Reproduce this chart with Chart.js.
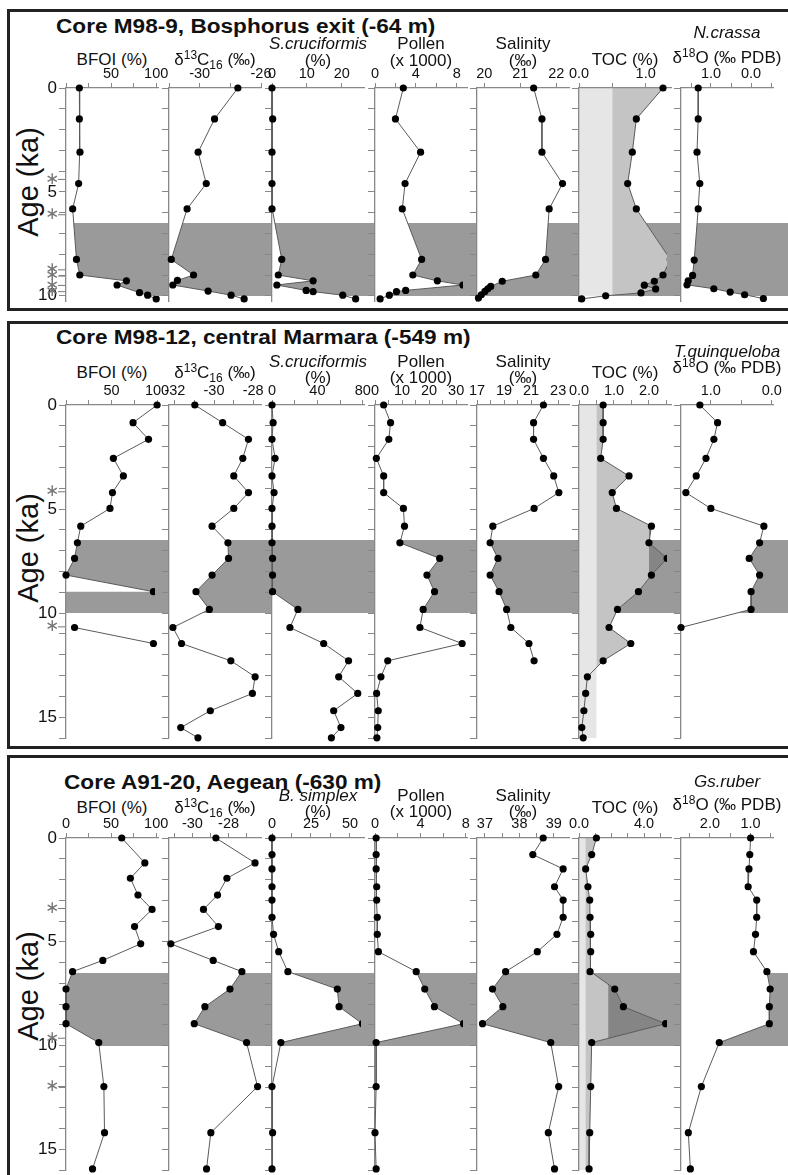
<!DOCTYPE html>
<html>
<head>
<meta charset="utf-8">
<script src="https://cdn.jsdelivr.net/npm/chart.js@4.4.0/dist/chart.umd.min.js"></script>
<style>
body { margin: 0; background: #fff; }
#page { position: relative; width: 788px; height: 1175px; overflow: hidden; font-family: "Liberation Sans", Arial, sans-serif; color: #111; }
.box { position: absolute; left: 7px; width: 800px; border: 3px solid #222; box-sizing: border-box; }
.t { position: absolute; white-space: nowrap; text-align: center; font-size: 17px; line-height: 17px; }
.t sup { font-size: 12px; line-height: 0; vertical-align: 6px; }
.t sub { font-size: 12px; line-height: 0; vertical-align: -4px; }
.title { position: absolute; white-space: nowrap; font-weight: bold; font-size: 20px; line-height: 20px; transform: scaleX(1.13); transform-origin: 0 50%; }
.age { position: absolute; font-size: 29px; line-height: 29px; white-space: nowrap; transform: translate(-50%, -50%) rotate(-90deg); }
canvas { position: absolute; }
</style>
</head>
<body>
<div id="page"></div>
<script>
// ---------- Core M98-9, Bosphorus exit ----------
const m9BfoiAge = [0, 1.49, 3.09, 4.6, 5.82, 8.25, 9.0, 9.28, 9.48, 9.85, 9.97, 10.15];
const m9Bfoi = [14.8, 14.8, 15.5, 14, 7.4, 11.6, 15.3, 67, 56.6, 81.5, 90.5, 100];
const m9D13cAge = [0, 1.49, 3.09, 4.6, 5.82, 8.25, 9.0, 9.26, 9.48, 9.77, 9.97, 10.15];
const m9D13c = [-27.51, -29.03, -30.1, -29.57, -30.82, -31.85, -30.4, -31.45, -31.75, -29.45, -27.95, -27.1];
const m9ScrAge = [0, 1.49, 3.09, 4.6, 5.82, 8.25, 9.0, 9.28, 9.48, 9.74, 9.8, 9.97, 10.15];
const m9Scr = [0, 0.2, 0, 0, 0, 2.8, 1.8, 11.8, 1.4, 9.8, 11.8, 20.3, 24];
const m9Pollen = [2.77, 2.0, 4.46, 2.94, 2.67, 4.56, 3.7, 6.1, 8.6, 3.0, 2.1, 1.4, 0.5];
const m9SalAge = [0, 1.49, 3.09, 4.6, 5.82, 8.25, 9.0, 9.3, 9.55, 9.66, 9.79, 9.95, 10.11];
const m9Sal = [21.37, 21.6, 21.6, 22.17, 21.8, 21.7, 21.43, 20.5, 20.18, 20.1, 20.02, 19.92, 19.84];
const m9TocAge = [0, 1.49, 3.09, 4.6, 5.82, 8.25, 9.0, 9.3, 9.49, 9.67, 9.86, 10.0, 10.15];
const m9Toc = [1.26, 0.86, 0.8, 0.73, 0.86, 1.37, 1.26, 1.13, 0.98, 1.15, 0.93, 0.4, 0.04];
const m9O18Age = [0, 1.49, 3.09, 4.6, 5.82, 8.28, 9.02, 9.28, 9.47, 9.66, 9.82, 9.95, 10.13];
const m9O18 = [1.32, 1.32, 1.35, 1.28, 1.32, 1.42, 1.46, 1.57, 1.6, 0.93, 0.52, 0.16, -0.31];
const m9Dates = [4.4, 6.1, 8.75, 9.05, 9.5, 9.8];
const m9Band = [6.5, 10];

// ---------- Core M98-12, central Marmara ----------
const m12Age = [0, 0.85, 1.65, 2.56, 3.41, 4.21, 4.97, 5.82, 6.62, 7.37, 8.17, 8.97, 9.82, 10.69, 11.46, 12.29, 13.06, 13.86, 14.69, 15.5, 15.99];
const m12Bfoi = [100, 73.6, 90.6, 52, 63, 51, 48.3, 16.2, 12.5, 9.4, 0, 96, null, 9.4, 96];
const m12D13c = [-30.98, -29.56, -28.24, -28.53, -28.99, -28.24, -28.99, -30.1, -29.29, -29.26, -30.1, -30.92, -30.24, -32.1, -31.66, -29.14, -27.9, -28.04, -30.19, -31.7, -30.82];
const m12Scr = [0, 1, 0, 2.7, 0, 1.8, 0, 0, 0, 0.5, 0.5, 0.5, 22.8, 15.8, 45.5, 67.4, 58.7, 75.5, 54.3, 60.7, 52.3];
const m12Pollen = [3.2, 5.75, 5.1, 0.5, 3.2, 3.2, 10.5, 10.9, 9.2, 23.9, 19.2, 22, 17.8, 16.6, 32.2, 4.7, 2.2, 0.6, 1.2, 1.0, 0.7];
const m12Sal = [21.91, 21.18, 21.18, 21.91, 22.67, 23.05, 21.22, 18.17, 17.97, 18.55, 17.97, 18.63, 19.19, 19.5, 20.84, 21.22];
const m12Toc = [0.69, 0.69, 0.69, 0.62, 1.43, 0.95, 1.07, 2.07, 2.0, 2.52, 2.07, 1.7, 1.1, 0.86, 1.48, 0.69, 0.24, 0.19, 0.14, 0.08, 0.12];
const m12O18 = [1.18, 0.89, 0.95, 1.08, 1.24, 1.41, 1.0, 0.13, 0.2, 0.37, 0.2, 0.34, 0.34, 1.49];
const m12Dates = [4.17, 10.66];
const m12Band = [6.5, 10];

// ---------- Core A91-20, Aegean ----------
const a91AgeA = [0, 1.2, 1.94, 2.75, 3.44, 4.27, 5.1, 5.9, 6.44, 7.28, 8.13, 8.95, 9.86, 11.98, 14.2, 15.95];
const a91AgeB = [0, 0.8, 1.49, 2.35, 2.99, 3.82, 4.64, 5.48, 6.44, 7.28, 8.13, 8.95, 9.86, 11.98, 14.2, 15.95];
const a91Bfoi = [61.8, 87.4, 71.4, 79.8, 95.4, 76, 82.8, 40.8, 7.3, 0, 0, 0, 36.3, 42, 42.7, 29.4];
const a91D13c = [-28.7, -26.53, -28.09, -28.61, -29.39, -28.56, -31.2, -28.85, -27.26, -27.92, -29.31, -29.9, -27.0, -26.39, -28.98, -29.22];
const a91Bsim = [0, 0, 0, 0, 0, 0, 1, 4.3, 10.2, 41.9, 43, 58, 5.7, 0, 0.4, 0];
const a91Pollen = [0.1, 0.1, 0.1, 0.15, 0.15, 0.2, 0.2, 0.3, 3.63, 4.38, 5.23, 7.8, 0.1, 0.1, 0, 0.1];
const a91Sal = [38.69, 38.39, 39.27, 39.02, 39.27, 39.27, 39.09, 38.52, 37.6, 37.22, 37.52, 36.93, 38.91, 39.14, 38.84, 39.02];
const a91Toc = [1.07, 0.78, 0.41, 0.55, 0.66, 0.68, 0.72, 0.72, 0.68, 2.2, 2.73, 5.33, 0.78, 0.72, 0.66, 0.62];
const a91O18 = [1.0, 1.02, 1.04, 1.06, 0.85, 0.85, 0.88, 0.93, 0.6, 0.52, 0.54, 0.54, 1.77, 2.21, 2.53, 2.48];
const a91Dates = [3.4, 9.65, 11.98];
const a91Band = [6.5, 10];

// ---------- tick values / labelled ticks ----------
const ageTicks10 = [0, 1, 2, 3, 4, 5, 6, 7, 8, 9, 10];
const ageTicks16 = [0, 1, 2, 3, 4, 5, 6, 7, 8, 9, 10, 11, 12, 13, 14, 15, 16];
const ageLabels = [0, 5, 10, 15];
const tkBfoi = [0, 25, 50, 75, 100];
const tkD13c9 = [-32, -30, -28, -26], lbD13c9 = [-30, -26];
const tkScr9 = [0, 10, 20], lbScr9 = [0, 10, 20];
const tkPol8 = [0, 2, 4, 6, 8], lbPol8 = [0, 4, 8];
const tkSal9 = [20, 21, 22];
const tkToc9 = [0, 0.5, 1.0], lbToc9 = [0, 1];
const tkO189 = [1.5, 1.0, 0.5, 0, -0.5], lbO18 = [1, 0];
const tkD13c12 = [-32, -31, -30, -29, -28], lbD13c12 = [-32, -30, -28];
const tkScr12 = [0, 20, 40, 60, 80], lbScr12 = [0, 40, 80];
const tkPol12 = [0, 5, 10, 15, 20, 25, 30], lbPol12 = [0, 10, 20, 30];
const tkSal12 = [17, 18, 19, 20, 21, 22, 23], lbSal12 = [17, 19, 21, 23];
const tkToc12 = [0, 0.5, 1, 1.5, 2, 2.5], lbToc12 = [0, 1, 2];
const tkO1812 = [1.0, 0.5, 0];
const tkD13c20 = [-31, -30, -29, -28, -27], lbD13c20 = [-30, -28];
const tkBsim = [0, 12.5, 25, 37.5, 50], lbBsim = [0, 25, 50];
const tkSal20 = [37, 37.5, 38, 38.5, 39], lbSal20 = [37, 38, 39];
const tkToc20 = [0, 1, 2, 3, 4, 5], lbToc20 = [0, 4];
const tkO1820 = [2.5, 2.0, 1.5, 1.0, 0.5], lbO1820 = [2, 1];

Chart.defaults.font.family = '"Liberation Sans", Arial, sans-serif';
Chart.defaults.color = '#111';

const BAND = '#9a9a9a', LIGHT = '#e6e6e6', MID = '#c4c4c4', DARK = '#858585', AXIS = '#888';
const COLX = [66, 169, 272, 375, 477, 579, 681];
const COLW = 92, PAD_T = 24, PAD_B = 6;

const d13cHead = '&delta;<sup>13</sup>C<sub>16</sub> (&permil;)';
const o18Line = '&delta;<sup>18</sup>O (&permil; PDB)';

const panels = [
  {
    title: 'Core M98-9, Bosphorus exit (-64 m)', box: [9, 302], titleX: 56, titleY: 26,
    y0: 88, kpx: 20.8, ageMax: 10.25, ageTicks: ageTicks10, dates: m9Dates, band: m9Band,
    toc: [0.5, 2.0], ageY: 182, hy: [60, 44, 61, 33, 58],
    cols: [
      { head: 'BFOI (%)', ages: m9BfoiAge, vals: m9Bfoi, min: 0, max: 102, ticks: tkBfoi, labels: [50, 100] },
      { head: d13cHead, ages: m9D13cAge, vals: m9D13c, min: -32, max: -26, ticks: tkD13c9, labels: lbD13c9 },
      { head: ['<i>S.cruciformis</i>', '(%)'], ages: m9ScrAge, vals: m9Scr, min: 0, max: 26.4, ticks: tkScr9, labels: lbScr9 },
      { head: ['Pollen', '(x 1000)'], ages: m9ScrAge, vals: m9Pollen, min: 0, max: 9, ticks: tkPol8, labels: lbPol8 },
      { head: ['Salinity', '(&permil;)'], ages: m9SalAge, vals: m9Sal, min: 19.8, max: 22.35, ticks: tkSal9, labels: tkSal9 },
      { head: 'TOC (%)', ages: m9TocAge, vals: m9Toc, min: 0, max: 1.38, ticks: tkToc9, labels: lbToc9, dec: 1, toc: true },
      { head: ['<i>N.crassa</i>', o18Line], iso: true, ages: m9O18Age, vals: m9O18, min: -0.55, max: 1.75, rev: true, ticks: tkO189, labels: lbO18, dec: 1 }
    ]
  },
  {
    title: 'Core M98-12, central Marmara (-549 m)', box: [321, 428], titleX: 56, titleY: 337,
    y0: 405, kpx: 20.8, ageMax: 16, ageTicks: ageTicks16, dates: m12Dates, band: m12Band,
    toc: [0.5, 2.0], ageY: 548, hy: [373, 362, 378, 352, 368],
    cols: [
      { head: 'BFOI (%)', ages: m12Age, vals: m12Bfoi, min: 0, max: 101, ticks: tkBfoi, labels: [50, 100] },
      { head: d13cHead, ages: m12Age, vals: m12D13c, min: -32.3, max: -27.6, ticks: tkD13c12, labels: lbD13c12 },
      { head: ['<i>S.cruciformis</i>', '(%)'], ages: m12Age, vals: m12Scr, min: 0, max: 81, ticks: tkScr12, labels: lbScr12 },
      { head: ['Pollen', '(x 1000)'], ages: m12Age, vals: m12Pollen, min: 0, max: 34, ticks: tkPol12, labels: lbPol12 },
      { head: ['Salinity', '(&permil;)'], ages: m12Age, vals: m12Sal, min: 17, max: 23.8, ticks: tkSal12, labels: lbSal12 },
      { head: 'TOC (%)', ages: m12Age, vals: m12Toc, min: 0, max: 2.63, ticks: tkToc12, labels: lbToc12, dec: 1, toc: true },
      { head: ['<i>T.quinqueloba</i>', o18Line], iso: true, ages: m12Age, vals: m12O18, min: -0.02, max: 1.49, rev: true, ticks: tkO1812, labels: lbO18, dec: 1 }
    ]
  },
  {
    title: 'Core A91-20, Aegean (-630 m)', box: [755, 440], titleX: 64, titleY: 782,
    y0: 838, kpx: 20.75, ageMax: 16, ageTicks: ageTicks16, dates: a91Dates, band: a91Band,
    toc: [0.4, 1.8], ageY: 986, hy: [808, 796, 812, 782, 805],
    cols: [
      { head: 'BFOI (%)', ages: a91AgeA, vals: a91Bfoi, min: 0, max: 102, ticks: tkBfoi, labels: [0, 50, 100] },
      { head: d13cHead, ages: a91AgeA, vals: a91D13c, min: -31.3, max: -26.2, ticks: tkD13c20, labels: lbD13c20 },
      { head: ['<i>B. simplex</i>', '(%)'], ages: a91AgeB, vals: a91Bsim, min: 0, max: 59, ticks: tkBsim, labels: lbBsim },
      { head: ['Pollen', '(x 1000)'], ages: a91AgeB, vals: a91Pollen, min: 0, max: 8.1, ticks: tkPol8, labels: lbPol8 },
      { head: ['Salinity', '(&permil;)'], ages: a91AgeB, vals: a91Sal, min: 36.77, max: 39.44, ticks: tkSal20, labels: lbSal20 },
      { head: 'TOC (%)', ages: a91AgeB, vals: a91Toc, min: 0, max: 5.66, ticks: tkToc20, labels: lbToc20, dec: 1, toc: true },
      { head: ['<i>Gs.ruber</i>', o18Line], iso: true, ages: a91AgeB, vals: a91O18, min: 0.45, max: 2.71, rev: true, ticks: tkO1820, labels: lbO1820, dec: 1 }
    ]
  }
];

const page = document.getElementById('page');

function addDiv(cls, html, css) {
  const d = document.createElement('div');
  d.className = cls;
  d.innerHTML = html;
  Object.assign(d.style, css);
  page.appendChild(d);
  return d;
}

function header(html, cx, cy) {
  addDiv('t', html, { left: (cx - 100) + 'px', width: '200px', top: (cy - 9) + 'px' });
}

// split a profile into runs without gaps
function segments(ages, vals) {
  const out = [];
  let cur = [];
  ages.forEach((a, k) => {
    const v = vals[k];
    if (v === null || v === undefined) { if (cur.length) out.push(cur); cur = []; }
    else cur.push([a, v]);
  });
  if (cur.length) out.push(cur);
  return out;
}

function fillPlugin(p, col, first) {
  return {
    id: 'profileFill',
    beforeDraw(chart) {
      const ctx = chart.ctx, xs = chart.scales.x, ys = chart.scales.y, a = chart.chartArea;
      const segs = segments(col.ages, col.vals);
      const poly = (s) => {
        ctx.beginPath();
        ctx.moveTo(a.left, ys.getPixelForValue(s[0][0]));
        s.forEach(q => ctx.lineTo(xs.getPixelForValue(q[1]), ys.getPixelForValue(q[0])));
        ctx.lineTo(a.left, ys.getPixelForValue(s[s.length - 1][0]));
        ctx.closePath();
      };
      ctx.save();
      const y1 = Math.round(ys.getPixelForValue(p.band[0])), y2 = Math.round(ys.getPixelForValue(p.band[1]));
      const x0 = first ? Math.round(a.left) : 0;
      ctx.fillStyle = BAND;
      ctx.fillRect(x0, y1, chart.width - x0, y2 - y1);
      ctx.save();
      ctx.beginPath();
      ctx.rect(a.left, y1, chart.width, y2 - y1);
      ctx.clip();
      ctx.fillStyle = '#fff';
      segs.forEach(s => { poly(s); ctx.fill(); });
      ctx.restore();
      if (col.toc) {
        const yEnd = ys.getPixelForValue(p.ageTicks[p.ageTicks.length - 1]);
        const t1 = xs.getPixelForValue(p.toc[0]), t2 = xs.getPixelForValue(p.toc[1]);
        ctx.fillStyle = LIGHT;
        ctx.fillRect(a.left, a.top, t1 - a.left, yEnd - a.top);
        [[t1, MID], [t2, DARK]].forEach(([tx, c]) => {
          ctx.save();
          ctx.beginPath();
          ctx.rect(tx, a.top, chart.width, a.bottom - a.top);
          ctx.clip();
          ctx.fillStyle = c;
          segs.forEach(s => { poly(s); ctx.fill(); });
          ctx.restore();
        });
      }
      ctx.restore();
    },
    afterDraw(chart) {
      if (!first) return;
      const ctx = chart.ctx, ys = chart.scales.y, a = chart.chartArea;
      ctx.save();
      ctx.strokeStyle = '#777';
      ctx.fillStyle = '#777';
      ctx.lineWidth = 1;
      ctx.font = '17px "DejaVu Sans"';
      ctx.textAlign = 'center';
      ctx.textBaseline = 'middle';
      p.dates.forEach(d => {
        const y = ys.getPixelForValue(d);
        ctx.beginPath();
        ctx.moveTo(a.left - 8, y);
        ctx.lineTo(a.left - 1, y);
        ctx.stroke();
        ctx.fillText('\u2217', a.left - 14, y);
      });
      ctx.restore();
    }
  };
}

function isIn(list, v) { return list.some(l => Math.abs(l - v) < 1e-9); }

panels.forEach(p => {
  addDiv('box', '', { top: p.box[0] + 'px', height: p.box[1] + 'px' });
  addDiv('title', p.title, { left: p.titleX + 'px', top: (p.titleY - 10) + 'px' });
  addDiv('age', 'Age (ka)', { left: '28px', top: p.ageY + 'px' });

  p.cols.forEach((col, i) => {
    const first = i === 0;
    const cx = COLX[i] + COLW / 2;
    if (Array.isArray(col.head)) {
      header(col.head[0], cx, col.iso ? p.hy[3] : p.hy[1]);
      header(col.head[1], cx, col.iso ? p.hy[4] : p.hy[2]);
    } else {
      header(col.head, cx, p.hy[0]);
    }

    const padL = first ? 62 : 14;
    const left = COLX[i] - padL;
    const right = i === 6 ? 788 : COLX[i] + COLW + 26;
    const w = right - left;
    const padR = w - padL - COLW;
    const h = PAD_T + Math.round(p.ageMax * p.kpx) + PAD_B;

    const cv = document.createElement('canvas');
    cv.width = w; cv.height = h;
    cv.style.left = left + 'px';
    cv.style.top = (p.y0 - PAD_T) + 'px';
    cv.style.width = w + 'px';
    cv.style.height = h + 'px';
    page.appendChild(cv);

    new Chart(cv, {
      type: 'line',
      data: {
        datasets: [{
          data: col.ages.map((a, k) => ({ x: col.vals[k] === undefined ? null : col.vals[k], y: a })),
          borderColor: '#5a5a5a',
          borderWidth: 1,
          pointRadius: 3.6,
          pointHoverRadius: 3.6,
          pointBackgroundColor: '#000',
          pointBorderWidth: 0,
          tension: 0,
          fill: false,
          clip: false
        }]
      },
      options: {
        responsive: false,
        animation: false,
        events: [],
        layout: { autoPadding: false, padding: { left: 0, top: 0, right: padR, bottom: PAD_B } },
        plugins: { legend: { display: false }, tooltip: { enabled: false } },
        scales: {
          x: {
            type: 'linear', position: 'top', min: col.min, max: col.max, reverse: !!col.rev,
            afterBuildTicks: s => { s.ticks = col.ticks.map(v => ({ value: v })); },
            afterFit: s => { s.height = PAD_T; s.paddingLeft = 0; s.paddingRight = 0; s.paddingTop = 0; s.paddingBottom = 0; },
            grid: { drawOnChartArea: false, drawTicks: true, tickLength: 5, color: AXIS, lineWidth: 1 },
            border: { color: AXIS, width: 1.3 },
            ticks: {
              autoSkip: false, maxRotation: 0, padding: 0, color: '#111',
              font: { size: 14.5 },
              callback: v => isIn(col.labels, v) ? (col.dec ? v.toFixed(col.dec) : String(v)) : ''
            }
          },
          y: {
            type: 'linear', position: 'left', min: 0, max: p.ageMax, reverse: true,
            afterBuildTicks: s => { s.ticks = p.ageTicks.map(v => ({ value: v })); },
            afterFit: s => { s.width = padL; s.paddingLeft = 0; s.paddingRight = 0; s.paddingTop = 0; s.paddingBottom = 0; },
            grid: { drawOnChartArea: false, drawTicks: true, tickLength: 7, color: AXIS, lineWidth: 1 },
            border: { color: AXIS, width: 1.3 },
            ticks: {
              display: first, autoSkip: false, padding: 2, color: '#111',
              font: { size: 17 },
              callback: v => isIn(ageLabels, v) ? String(v) : ''
            }
          }
        }
      },
      plugins: [fillPlugin(p, col, first)]
    });
  });
});
</script>
</body>
</html>
